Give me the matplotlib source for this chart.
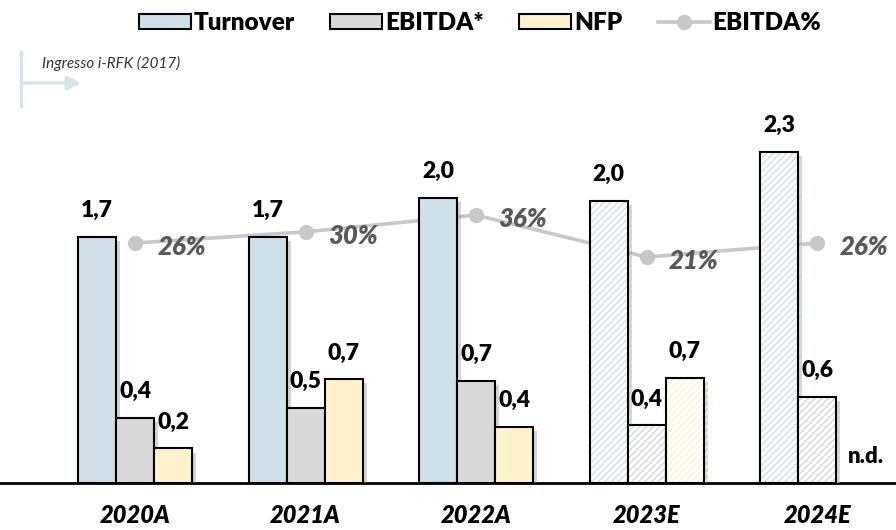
import numpy as np
import matplotlib
matplotlib.use("Agg")
import matplotlib.pyplot as plt
from matplotlib.patches import Patch
from matplotlib.lines import Line2D
import matplotlib.patheffects as pe

plt.rcParams['font.family'] = ['Lato', 'DejaVu Sans']

years = ['2020A', '2021A', '2022A', '2023E', '2024E']
turnover = [1.71, 1.71, 1.98, 1.96, 2.30]
ebitda = [0.45, 0.52, 0.71, 0.40, 0.60]
nfp = [0.24, 0.72, 0.39, 0.73, np.nan]
ebitda_pct = [26, 30, 36, 21, 26]
turnover_lbl = ['1,7', '1,7', '2,0', '2,0', '2,3']
ebitda_lbl = ['0,4', '0,5', '0,7', '0,4', '0,6']
nfp_lbl = ['0,2', '0,7', '0,4', '0,7', 'n.d.']
estimate = [False, False, False, True, True]

c_turn = '#cfe0e8'
c_ebit = '#d9d9d9'
c_nfp = '#fff2cc'
c_line = '#c8c8c8'
W = 'heavy'

fig = plt.figure(figsize=(8.96, 5.30), dpi=100)
ax_line = fig.add_axes([0, 47 / 530, 1, 383 / 530])
ax = ax_line.twinx()
ax_line.set_zorder(0)
ax.set_zorder(1)
ax.patch.set_visible(False)

x = np.arange(len(years))
w = 0.223
shadow = [pe.SimplePatchShadow(offset=(3, -3), shadow_rgbFace='#888888', alpha=0.35), pe.Normal()]

series = [(turnover, turnover_lbl, c_turn, -w),
          (ebitda, ebitda_lbl, c_ebit, 0),
          (nfp, nfp_lbl, c_nfp, w)]

for vals, lbls, col, off in series:
    for i in range(len(years)):
        v = vals[i]
        xi = x[i] + off
        if np.isnan(v):
            ax.annotate(lbls[i], (xi, 0), xytext=(8, 19), textcoords='offset points',
                        ha='center', va='center', fontsize=16, fontweight=W)
            continue
        if estimate[i]:
            ax.bar(xi, v, w, color='white', edgecolor=col, hatch='/////', linewidth=0,
                   path_effects=shadow)
            ax.bar(xi, v, w, color='none', edgecolor='black', linewidth=1.5)
        else:
            ax.bar(xi, v, w, color=col, edgecolor='black', linewidth=1.5,
                   path_effects=shadow)
        ax.annotate(lbls[i], (xi, v), xytext=(0, 19), textcoords='offset points',
                    ha='center', va='center', fontsize=16.5, fontweight=W)

ax_line.plot(x, ebitda_pct, color=c_line, lw=2.6, marker='o', ms=10, mec=c_line, mfc=c_line)
for i, p in enumerate(ebitda_pct):
    ax_line.annotate(f'{p}%', (x[i], p), xytext=(16, -3), textcoords='offset points',
                     ha='left', va='center', fontsize=18.5, fontweight=W,
                     style='italic', color='#595959')

ax.set_xlim(-0.792, 4.463)
ax.set_ylim(0, 383 / 144)
ax_line.set_ylim(-59.7, 77.1)

for a in (ax, ax_line):
    for s in ('top', 'left', 'right'):
        a.spines[s].set_visible(False)
    a.set_yticks([])
ax_line.spines['bottom'].set_linewidth(2)
ax.spines['bottom'].set_visible(False)
ax_line.set_xticks(x)
ax_line.set_xticklabels(years, fontsize=17, fontweight=W, style='italic')
ax_line.tick_params(axis='x', length=0, pad=15)

handles = [Patch(facecolor=c_turn, edgecolor='black', lw=1.5, label='Turnover'),
           Patch(facecolor=c_ebit, edgecolor='black', lw=1.5, label='EBITDA*'),
           Patch(facecolor=c_nfp, edgecolor='black', lw=1.5, label='NFP'),
           Line2D([], [], color=c_line, lw=2.6, marker='o', ms=10, label='EBITDA%')]
fig.legend(handles=handles, loc='center', bbox_to_anchor=(0.536, 1 - 23 / 530), ncol=4,
           frameon=False, prop={'weight': W, 'size': 17.5}, handlelength=2.14,
           handleheight=0.58, handletextpad=0.12, columnspacing=1.45)

# milestone marker
fig.add_artist(Line2D([21 / 896, 21 / 896], [1 - 52 / 530, 1 - 106 / 530], color='#d6e4ec', lw=2.5))
fig.add_artist(plt.Annotation('', xy=(84 / 896, 1 - 83 / 530), xytext=(21 / 896, 1 - 83 / 530),
                              xycoords='figure fraction',
                              arrowprops=dict(arrowstyle='-|>', color='#d6e4ec', lw=2.5,
                                              mutation_scale=20)))
fig.text(42 / 896, 1 - 63 / 530, 'Ingresso i-RFK (2017)', fontsize=11, style='italic',
         color='#333333', ha='left', va='center')

fig.savefig('out.png', dpi=100)
